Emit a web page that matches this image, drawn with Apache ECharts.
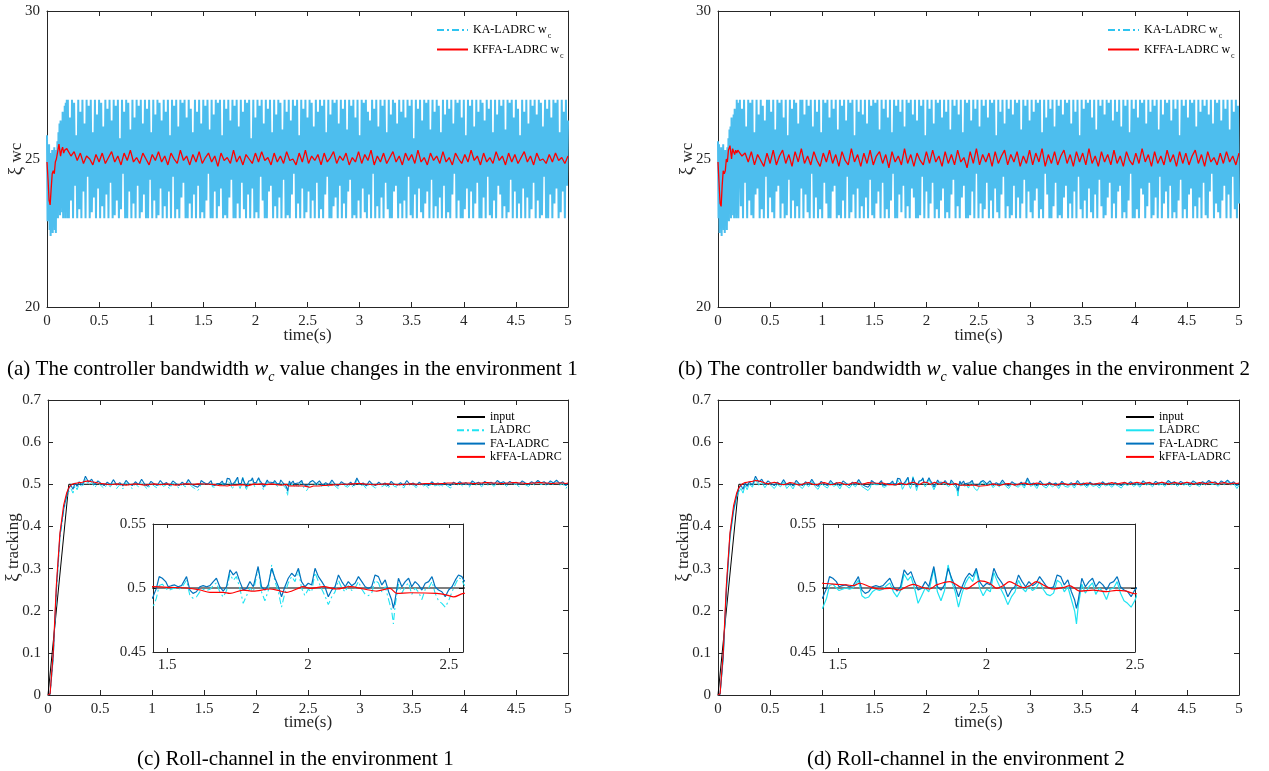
<!DOCTYPE html>
<html><head><meta charset="utf-8">
<script src="https://cdn.jsdelivr.net/npm/echarts@6/dist/echarts.min.js"></script>
<style>html,body{margin:0;padding:0;background:#fff}#c{width:1269px;height:771px}</style>
</head><body><div id="c"></div><script>
// ---------------- DATA ----------------
const timeTicks = [0,0.5,1,1.5,2,2.5,3,3.5,4,4.5,5];
const wcTicks = [20,25,30];
const insetXTicks = [1.5,2,2.5];
const insetYTicks = [0.45,0.5,0.55];

// (a) KA-LADRC wc : start transient [t, value]
const kaHeadA = [[0,25.8],[0.005,22.9],[0.01,25.4],[0.015,23.3],[0.02,25.5],[0.025,22.6],[0.03,25.2],[0.035,22.4],[0.04,25.0],[0.045,23.0],[0.05,25.3],[0.055,22.5],[0.06,25.1],[0.065,22.7],[0.07,25.4],[0.075,22.6],[0.08,24.9],[0.085,22.5],[0.09,25.3],[0.095,23.2],[0.10,25.6],[0.105,23.0],[0.11,25.9],[0.115,23.3],[0.12,26.2],[0.125,23.1],[0.13,26.3],[0.135,23.4],[0.14,26.0],[0.145,23.2],[0.15,26.6],[0.155,23.0],[0.16,26.5],[0.165,23.3],[0.17,26.8],[0.175,23.0],[0.18,26.9],[0.185,23.2],[0.19,27.0],[0.195,23.0]];
// (a) KA-LADRC wc from t=0.2, every 0.01 s
const kaBodyA = [27,23,26.4,23.6,27,23,26.9,24.1,25.8,23,27,23.3,26.6,23,27,23.9,26.2,23,27,24.4,
26.8,23,27,23.2,25.9,23.7,27,23,26.5,24.0,27,23,26.9,23.4,26.1,23,27,23.8,26.7,23,
27,24.2,26.3,23,27,23.1,26.8,23.6,27,23,25.7,23.3,27,24.5,26.6,23,27,23,26.9,23.9,
26.0,23,27,23.5,26.4,23,27,24.1,26.8,23,27,23.2,26.2,23.8,27,23,26.7,23,27,24.3,
25.9,23,27,23.6,26.5,23,27,23.1,26.9,24.0,26.3,23,27,23.4,26.6,23,27,23.9,25.8,23,
27,24.4,26.8,23,27,23.3,26.1,23,27,23.7,26.9,24.2,27,23,26.4,23,27,23.5,26.7,23,
25.9,23.8,27,23,26.6,24.1,27,23,26.2,23.2,27,23,26.8,23.6,27,24.5,26.0,23,27,23,
26.5,23.9,27,23,26.9,23.4,27,24.0,25.8,23,27,23.1,26.7,23,27,23.7,26.3,24.3,27,23,
26.8,23,27,23.5,26.1,23,27,24.2,26.6,23.3,27,23,26.9,23.8,27,23,25.7,24.0,27,23,
26.4,23.2,27,23,26.8,24.4,27,23.6,26.2,23,27,23,26.7,23.9,27,24.1,25.9,23,27,23.4,
26.5,23,27,23.7,26.9,23,26.0,24.3,27,23,26.6,23.1,27,23,26.3,23.8,27,24.5,26.8,23,
27,23.5,25.8,23,27,24.0,26.7,23,27,23.2,26.4,23.9,27,23,26.9,23.6,26.1,23,27,24.2,
26.6,23,27,23.3,26.8,23,27,23.8,25.9,24.4,27,23,26.5,23,27,23.4,26.9,23.7,27,23,
26.2,24.1,27,23,26.7,23.5,27,23,26.0,23.9,27,24.3,26.8,23,27,23.1,26.4,23,27,23.6,
25.8,23,27,24.0,26.9,23.2,27,23,26.6,23.8,26.3,23,27,24.5,26.7,23,27,23.4,26.1,23,
27,23.7,26.8,23,27,24.2,25.9,23.3,27,23,26.5,23,27,23.9,26.9,24.1,26.2,23,27,23.5,
26.6,23,27,23.6,26.4,23,27,24.4,26.8,23.1,27,23,25.7,23.8,27,23,26.7,24.0,27,23.2,
26.3,23,27,23.5,26.9,23.9,27,23,26.0,24.3,27,23,26.6,23.4,27,23,26.8,23.7,25.9,23,
27,24.1,26.5,23,27,23.2,26.7,23,27,23.8,26.2,24.5,27,23,26.9,23.6,27,23,26.4,23,
27,23.3,25.8,24.0,27,23,26.8,23.9,27,23,26.1,23.5,27,24.2,26.6,23,27,23,26.9,23.7,
26.3,23,27,24.4,26.7,23.1,27,23,25.9,23.6,27,23,26.5,24.1,27,23.8,26.8,23,27,23.4,
26.0,23,27,23.2,26.9,24.3,27,23,26.4,23.9,27,23,26.7,23.5,25.8,23,27,24.0,26.6,23,
27,23.7,26.2,23,27,23.3,26.8,24.2,27,23,26.5,23.6,27,23,26.9,23.1,26.1,24.4,27,23,
26.7,23,27,23.8,26.4,23,27,23.5,26.9,24.0,27,23,25.9,23.2,27,23.9,26.6,23,27,24.1,
26.3];
// (a) KFFA-LADRC wc
const kfHeadA = [[0,24.9],[0.01,24.3],[0.02,23.6],[0.03,23.45],[0.04,24.0],[0.05,24.5],[0.06,24.6],[0.07,24.5],[0.08,24.9],[0.09,25.0],[0.1,25.2],[0.115,25.5],[0.13,25.1],[0.14,25.3],[0.15,25.4],[0.16,25.2],[0.17,25.3],[0.18,25.25],[0.19,25.35]];
// from t=0.2, every 0.03 s
const kfBodyA = [25.3,25.1,25.25,24.95,25.2,24.85,25.1,25.0,24.8,25.15,24.9,25.2,24.85,25.05,25.25,24.9,25.1,24.8,25.2,24.95,
25.3,24.9,25.05,24.85,25.2,25.0,24.8,25.15,24.95,25.25,24.9,25.1,24.8,25.2,25.0,24.85,25.3,24.95,25.1,24.8,
25.15,24.9,25.25,24.85,25.05,25.2,24.9,25.1,24.75,25.2,24.95,25.05,24.85,25.3,24.9,25.1,24.8,25.15,25.0,24.85,
25.2,24.9,25.25,24.95,25.05,24.8,25.2,24.9,25.1,24.85,25.25,24.95,25.0,24.8,25.2,24.9,25.3,24.85,25.1,24.95,
25.15,24.8,25.2,24.9,25.05,25.25,24.85,25.1,24.95,25.2,24.8,25.05,24.9,25.25,24.85,25.15,24.95,25.3,24.8,25.1,
24.9,25.2,24.85,25.05,25.25,24.9,25.1,24.8,25.2,24.95,25.15,24.85,25.3,24.9,25.05,24.8,25.2,24.95,25.1,24.85,
25.25,24.9,25.05,24.8,25.2,25.0,24.85,25.15,24.9,25.3,24.95,25.1,24.8,25.2,24.9,25.05,24.85,25.25,24.95,25.1,
24.8,25.2,24.9,25.15,24.85,25.05,25.25,24.9,25.1,24.8,25.2,24.95,25.0,24.85,25.15,24.9,25.2,24.95,25.05,24.85,25.1];

// (b)
const kaHeadB = [[0,25.6],[0.005,23.0],[0.01,25.5],[0.015,22.5],[0.02,25.3],[0.025,22.8],[0.03,25.4],[0.035,22.4],[0.04,25.1],[0.045,22.9],[0.05,25.5],[0.055,22.6],[0.06,24.9],[0.065,22.5],[0.07,25.3],[0.075,22.8],[0.08,25.2],[0.085,22.6],[0.09,25.4],[0.095,23.1],[0.10,25.7],[0.105,22.9],[0.11,26.0],[0.115,23.2],[0.12,26.1],[0.125,23.0],[0.13,26.4],[0.135,23.3],[0.14,26.2],[0.145,23.1],[0.15,26.5],[0.155,23.0],[0.16,26.7],[0.165,23.2],[0.17,26.6],[0.175,23.0],[0.18,27.0],[0.185,23.1],[0.19,26.9],[0.195,23.0]];
const kaBodyB = [23,27,23.4,26.7,23,27,24.2,26.1,23,27,23.6,26.9,23.1,27,23,25.9,23.8,27,24.0,26.5,
23,27,23.3,26.8,23,26.3,24.4,27,23,27,23.7,26.6,23.2,27,23,26.0,23.9,27,24.1,26.9,
23,27,23.5,26.4,23,27,23.1,25.8,24.3,27,23,26.7,23.6,27,23,26.9,23.4,26.2,23,27,
24.0,27,23,26.5,23.8,27,23.2,26.8,23,27,24.5,26.1,23,27,23.7,26.6,23,27,23.3,25.9,
23,27,24.2,26.9,23.5,27,23,26.4,23,27,23.9,26.7,24.1,27,23,26.0,23.1,27,23,26.8,
23.6,27,23,26.3,24.4,27,23,26.9,23.2,27,23.8,25.8,23,27,24.0,26.6,23,27,23.4,26.5,
23,27,23.7,26.2,23,27,24.3,26.8,23.1,27,23,26.9,23.5,27,23.9,26.0,23,27,24.2,26.7,
23,27,23.3,26.4,23,27,23.6,25.9,24.5,27,23,26.8,23,27,23.8,26.6,23.2,27,24.1,26.1,
23,27,23.4,26.9,23,27,24.0,26.5,23.7,27,23,26.3,23,27,23.1,26.8,24.4,27,23,25.8,
23.9,27,23,26.7,23.5,27,24.2,26.2,23,27,23.3,26.9,23,27,23.6,26.4,24.0,27,23,26.6,
23.2,27,23,26.0,23.8,27,24.3,26.8,23,27,23.4,26.5,23,27,23.7,25.9,24.1,27,23,26.9,
23,27,23.1,26.3,23.9,27,23,26.7,24.5,27,23,26.1,23.5,27,23,26.8,23.3,27,24.2,26.4,
23,27,23.6,26.9,23,27,24.0,25.8,23.2,27,23,26.6,23.8,27,24.4,26.2,23,27,23.4,26.7,
23,27,23.1,26.5,24.1,27,23,26.9,23.7,27,23,26.0,23.5,27,24.3,26.8,23,27,23.9,26.3,
23.2,27,23,26.6,23.6,27,24.0,26.9,23,27,23.3,25.9,23,27,24.5,26.4,23.8,27,23,26.7,
23,27,23.4,26.1,24.2,27,23,26.8,23.1,27,23,26.5,23.7,27,24.1,26.9,23,27,23.5,26.2,
23,27,23.9,26.6,23,27,24.4,25.8,23.3,27,23,26.7,23.6,27,23,26.9,24.0,27,23.2,26.4,
23,27,23.8,26.0,23,27,24.3,26.8,23.4,27,23,26.5,23.1,27,23.7,26.9,24.2,27,23,26.3,
23.5,27,23,26.6,23.9,27,24.1,26.1,23,27,23.2,26.8,23,27,23.6,25.9,24.5,27,23,26.7,
23,27,23.3,26.4,23,27,24.0,26.9,23.8,27,23,26.2,23.4,27,24.2,26.6,23,27,23.1,26.8,
23.7,27,23,26.0,24.4,27,23,26.5,23.5,27,23.9,26.9,23,27,24.1,26.3,23,27,23.2,26.7,
23,27,23.6,25.8,24.3,27,23,26.8,23.3,27,23,26.4,23.8,27,24.0,26.9,23,27,23.4,26.1,
23,27,23.7,26.6,23,27,24.2,26.8,23.1,27,23,26.5,23.9,27,24.5,26.2,23,27,23.5,26.9,
23.2,27,23,26.3,23.6,27,24.1,26.7,23,27,23.8,26.0,23,27,24.4,26.6,23.3,27,23,26.8,
23.5];
const kfHeadB = [[0,24.9],[0.01,24.2],[0.02,23.5],[0.03,23.4],[0.04,24.1],[0.05,24.6],[0.06,24.5],[0.07,24.6],[0.08,25.0],[0.09,24.9],[0.1,25.3],[0.115,25.45],[0.13,25.0],[0.14,25.35],[0.15,25.4],[0.16,25.15],[0.17,25.3],[0.18,25.2],[0.19,25.3]];
const kfBodyB = [25.35,25.1,25.2,24.9,25.25,24.8,25.15,24.95,24.75,25.2,24.85,25.3,24.8,25.1,25.3,24.85,25.15,24.75,25.25,24.9,
25.35,24.85,25.1,24.8,25.25,24.95,24.75,25.2,24.9,25.3,24.85,25.15,24.75,25.25,24.95,24.8,25.35,24.9,25.15,24.75,
25.2,24.85,25.3,24.8,25.1,25.25,24.85,25.15,24.7,25.25,24.9,25.1,24.8,25.35,24.85,25.15,24.75,25.2,24.95,24.8,
25.25,24.85,25.3,24.9,25.1,24.75,25.25,24.85,25.15,24.8,25.3,24.9,25.05,24.7,25.25,24.85,25.35,24.8,25.15,24.9,
25.2,24.75,25.25,24.85,25.1,25.3,24.8,25.15,24.9,25.25,24.75,25.1,24.85,25.3,24.8,25.2,24.9,25.35,24.75,25.15,
24.85,25.25,24.8,25.1,25.3,24.85,25.15,24.75,25.25,24.9,25.2,24.8,25.35,24.85,25.1,24.75,25.25,24.9,25.15,24.8,
25.3,24.85,25.1,24.75,25.25,24.95,24.8,25.2,24.85,25.35,24.9,25.15,24.75,25.25,24.85,25.1,24.8,25.3,24.9,25.15,
24.75,25.25,24.85,25.2,24.8,25.1,25.3,24.85,25.15,24.75,25.25,24.9,25.05,24.8,25.2,24.85,25.25,24.9,25.1,24.8,25.2];

// (c)/(d) roll tracking
const inputTrack = [[0,0],[0.2,0.5],[5,0.5]];
const earlyT = [0,0.02,0.05,0.08,0.115,0.15,0.18,0.2,0.22,0.24,0.26,0.28,0.30,0.33,0.36,0.39,0.42,0.45,0.48,0.51,0.54,0.57,0.60,0.63,0.66,0.69,0.72,0.75,0.78,0.81,0.84,0.87,0.90,0.93,0.96,0.99,1.02,1.05,1.08,1.11,1.14,1.17,1.20,1.23,1.26,1.29,1.32,1.35,1.38,1.41,1.44];
const faEarly = [0,0.002,0.09,0.25,0.38,0.44,0.475,0.49,0.498,0.488,0.503,0.495,
0.506,0.498,0.519,0.505,0.512,0.499,0.508,0.502,0.497,0.505,0.499,0.511,0.498,0.504,0.496,0.509,0.501,0.497,0.506,0.499,0.512,0.500,0.495,0.507,0.501,0.497,0.509,0.500,0.504,0.496,0.508,0.502,0.497,0.505,0.499,0.511,0.500,0.496,0.493];
const ladEarly = [0,0.002,0.085,0.24,0.37,0.435,0.47,0.482,0.49,0.479,0.497,0.487,
0.501,0.493,0.512,0.498,0.505,0.492,0.503,0.497,0.490,0.500,0.494,0.506,0.490,0.499,0.489,0.504,0.496,0.490,0.501,0.494,0.507,0.495,0.488,0.502,0.496,0.491,0.504,0.495,0.499,0.489,0.503,0.497,0.491,0.500,0.494,0.506,0.495,0.490,0.485];
const kfEarlyC = [0,0.003,0.1,0.26,0.385,0.45,0.48,0.492,0.498,0.501,0.502,0.503,
0.504,0.505,0.507,0.508,0.506,0.505,0.503,0.502,0.501,0.500,0.499,0.500,0.501,0.500,0.499,0.498,0.499,0.500,0.501,0.500,0.499,0.498,0.499,0.500,0.501,0.500,0.499,0.500,0.501,0.500,0.499,0.498,0.499,0.500,0.501,0.501,0.500,0.500,0.501];
const kfEarlyD = [0,0.003,0.1,0.26,0.385,0.45,0.48,0.492,0.498,0.502,0.504,0.505,
0.506,0.507,0.509,0.508,0.506,0.503,0.501,0.503,0.505,0.503,0.500,0.499,0.501,0.504,0.503,0.500,0.498,0.500,0.503,0.504,0.501,0.499,0.500,0.503,0.504,0.502,0.499,0.500,0.503,0.504,0.501,0.499,0.500,0.503,0.504,0.502,0.500,0.502,0.504];

const insetT = [1.448,1.462,1.472,1.483,1.495,1.504,1.515,1.527,1.539,1.551,1.569,1.581,1.592,1.604,1.616,1.628,1.640,1.652,1.664,1.675,1.687,1.699,1.711,1.723,1.735,1.746,1.758,1.770,1.782,1.794,1.806,1.823,1.835,1.847,1.859,1.871,1.883,1.895,1.906,1.918,1.930,1.942,1.954,1.966,1.977,1.989,2.001,2.013,2.025,2.037,2.049,2.060,2.072,2.084,2.096,2.108,2.120,2.132,2.143,2.155,2.167,2.179,2.191,2.203,2.214,2.226,2.238,2.250,2.262,2.274,2.286,2.297,2.303,2.309,2.321,2.333,2.345,2.357,2.368,2.380,2.392,2.404,2.416,2.428,2.440,2.451,2.463,2.475,2.487,2.499,2.511,2.523,2.534,2.546,2.552];
const faInset = [0.4919,0.4997,0.5089,0.5076,0.5050,0.5010,0.5018,0.5024,0.5010,0.5018,
0.5089,0.4984,0.4958,0.4971,0.5010,0.5018,0.5010,0.5018,0.5050,0.5076,
0.5010,0.4976,0.5010,0.5141,0.5102,0.5128,0.5050,0.4984,0.4997,0.5050,
0.5010,0.5168,0.5010,0.4984,0.5024,0.5154,0.5076,0.5010,0.4932,0.5010,
0.5076,0.5115,0.5089,0.5154,0.5050,0.5010,0.5037,0.5024,0.5154,0.5089,
0.5050,0.5010,0.4932,0.4984,0.5010,0.5102,0.5050,0.5010,0.5050,0.5018,
0.5037,0.5089,0.5050,0.5010,0.4997,0.5010,0.5102,0.5089,0.5024,0.5063,
0.4971,0.4906,0.4840,0.4906,0.5076,0.5010,0.5050,0.5076,0.5010,0.5050,
0.5024,0.4984,0.5037,0.5050,0.5089,0.5010,0.4984,0.4971,0.4932,0.4984,
0.5010,0.5063,0.5102,0.5089,0.5063];
const ladInset = [0.484,0.492,0.502,0.503,0.500,0.498,0.499,0.500,0.499,0.500,
0.506,0.494,0.492,0.493,0.497,0.499,0.498,0.499,0.502,0.504,
0.497,0.493,0.498,0.511,0.506,0.509,0.500,0.488,0.494,0.500,
0.497,0.515,0.497,0.490,0.498,0.518,0.505,0.497,0.485,0.496,
0.504,0.509,0.505,0.514,0.500,0.494,0.499,0.497,0.512,0.505,
0.499,0.494,0.487,0.493,0.497,0.506,0.500,0.497,0.502,0.498,
0.500,0.505,0.499,0.495,0.494,0.496,0.506,0.504,0.497,0.501,
0.491,0.482,0.472,0.486,0.503,0.496,0.501,0.504,0.495,0.500,
0.497,0.491,0.499,0.500,0.505,0.496,0.490,0.488,0.485,0.490,
0.497,0.503,0.508,0.507,0.503];
const kfInsetC = [[1.448,0.501],[1.509,0.5005],[1.569,0.500],[1.616,0.4985],[1.652,0.4966],[1.699,0.4966],[1.723,0.4958],[1.770,0.4984],[1.806,0.4976],[1.865,0.4992],[1.889,0.4984],[1.924,0.4966],[1.960,0.4992],[1.983,0.501],[2.007,0.4997],[2.055,0.501],[2.102,0.4992],[2.149,0.501],[2.197,0.4992],[2.244,0.4976],[2.291,0.4997],[2.315,0.4958],[2.363,0.4963],[2.457,0.4958],[2.493,0.4945],[2.517,0.493],[2.552,0.4958]];
const kfInsetD = [[1.448,0.5037],[1.496,0.5029],[1.529,0.5024],[1.552,0.5018],[1.574,0.5037],[1.608,0.501],[1.641,0.4992],[1.675,0.4997],[1.709,0.4984],[1.731,0.501],[1.753,0.5029],[1.787,0.5003],[1.809,0.4992],[1.832,0.5024],[1.877,0.505],[1.910,0.501],[1.933,0.4992],[1.955,0.5024],[1.978,0.5055],[2.011,0.5037],[2.034,0.4997],[2.056,0.5018],[2.078,0.505],[2.101,0.5024],[2.123,0.5003],[2.146,0.5018],[2.168,0.505],[2.191,0.5024],[2.224,0.4992],[2.258,0.5003],[2.280,0.5018],[2.314,0.4976],[2.359,0.4984],[2.404,0.4971],[2.437,0.4982],[2.471,0.4976],[2.499,0.4955]];

// from t=2.58, every 0.03 s
const faLate = [0.501,0.508,0.497,0.504,0.499,0.510,0.500,0.496,0.506,0.501,
0.498,0.505,0.497,0.515,0.500,0.503,0.496,0.508,0.500,0.497,
0.505,0.499,0.503,0.496,0.507,0.500,0.498,0.504,0.497,0.509,
0.500,0.503,0.497,0.505,0.499,0.502,0.497,0.506,0.500,0.503,
0.498,0.504,0.500,0.497,0.505,0.501,0.506,0.500,0.504,0.498,
0.508,0.502,0.505,0.499,0.507,0.502,0.505,0.500,0.509,0.503,
0.506,0.500,0.507,0.502,0.505,0.500,0.508,0.503,0.500,0.506,
0.502,0.509,0.503,0.506,0.500,0.508,0.503,0.510,0.502,0.506,0.497,0.503];
const ladLate = [0.497,0.503,0.492,0.500,0.494,0.505,0.496,0.490,0.501,0.497,
0.493,0.500,0.491,0.510,0.495,0.499,0.490,0.503,0.496,0.491,
0.500,0.494,0.499,0.490,0.502,0.495,0.493,0.500,0.491,0.504,
0.496,0.499,0.492,0.501,0.495,0.498,0.491,0.502,0.496,0.499,
0.493,0.500,0.496,0.491,0.501,0.497,0.502,0.495,0.500,0.493,
0.504,0.498,0.501,0.494,0.503,0.498,0.501,0.495,0.505,0.499,
0.502,0.495,0.503,0.498,0.501,0.494,0.504,0.499,0.495,0.502,
0.498,0.505,0.499,0.502,0.495,0.504,0.499,0.506,0.498,0.502,0.490,0.498];
const kfLateC = [0.496,0.496,0.497,0.497,0.498,0.498,0.499,0.499,0.500,0.500,
0.500,0.501,0.501,0.502,0.502,0.501,0.500,0.500,0.499,0.499,
0.500,0.500,0.501,0.501,0.500,0.500,0.499,0.499,0.500,0.500,
0.501,0.501,0.500,0.500,0.501,0.502,0.502,0.502,0.501,0.501,
0.502,0.502,0.503,0.503,0.503,0.502,0.502,0.503,0.503,0.503,
0.502,0.502,0.503,0.503,0.504,0.504,0.503,0.503,0.503,0.502,
0.502,0.503,0.503,0.504,0.504,0.503,0.503,0.502,0.502,0.503,
0.503,0.504,0.504,0.503,0.503,0.502,0.502,0.503,0.503,0.503,0.502,0.503];
const kfLateD = [0.497,0.499,0.501,0.499,0.497,0.499,0.501,0.502,0.500,0.498,
0.500,0.502,0.503,0.501,0.499,0.501,0.503,0.501,0.499,0.500,
0.502,0.500,0.498,0.500,0.502,0.501,0.499,0.500,0.502,0.501,
0.499,0.501,0.503,0.502,0.500,0.501,0.503,0.502,0.500,0.502,
0.504,0.502,0.501,0.503,0.504,0.502,0.501,0.503,0.505,0.503,
0.501,0.503,0.504,0.502,0.501,0.503,0.505,0.503,0.501,0.502,
0.504,0.503,0.501,0.503,0.505,0.503,0.501,0.502,0.504,0.503,
0.501,0.503,0.505,0.503,0.501,0.503,0.504,0.502,0.501,0.503,0.502,0.503];

// ---------------- BUILD ----------------
const FONT = '"Liberation Serif","Times New Roman",serif';
const AX = '#262626';
function uniform(t0, dt, vals){ return vals.map((v,i)=>[Math.min(5, +(t0+dt*i).toFixed(4)), v]); }
function onGrid(ts, vals){ return ts.map((t,i)=>[t, vals[i]]); }

const kaA = kaHeadA.concat(uniform(0.2,0.01,kaBodyA));
const kfA = kfHeadA.concat(uniform(0.2,0.03,kfBodyA));
const kaB = kaHeadB.concat(uniform(0.2,0.01,kaBodyB));
const kfB = kfHeadB.concat(uniform(0.2,0.03,kfBodyB));
const faT = onGrid(earlyT,faEarly).concat(onGrid(insetT,faInset), uniform(2.58,0.03,faLate));
const ladT = onGrid(earlyT,ladEarly).concat(onGrid(insetT,ladInset), uniform(2.58,0.03,ladLate));
const kfC = onGrid(earlyT,kfEarlyC).concat(kfInsetC, uniform(2.58,0.03,kfLateC));
const kfD = onGrid(earlyT,kfEarlyD).concat(kfInsetD, uniform(2.58,0.03,kfLateD));

const grids=[], xAxes=[], yAxes=[];
function addPanel(o){
  const g = grids.length;
  grids.push({left:o.l, top:o.t, width:o.w, height:o.h, containLabel:false});
  const tick = (cv)=>Object.assign({inside:true, length:o.tl, lineStyle:{color:AX,width:1}}, cv?{customValues:cv}:{});
  const line = {show:true, onZero:false, lineStyle:{color:AX,width:1}};
  const lab = (cv,m)=>Object.assign({color:AX, fontFamily:FONT, fontSize:o.fs, margin:m}, cv?{customValues:cv}:{});
  const nts = {color:AX, fontFamily:FONT, fontSize:17, rich:{x:{fontFamily:FONT,fontSize:19,color:AX}, n:{fontFamily:FONT,fontSize:17,color:AX}}};
  const bx = {type:'value', gridIndex:g, min:o.x[0], max:o.x[1], splitLine:{show:false}, axisLine:line, nameMoveOverlap:false};
  if(o.xi) bx.interval=o.xi;
  xAxes.push(Object.assign({}, bx, {position:'bottom', axisTick:tick(o.xc), axisLabel:lab(o.xc,o.xm||7), name:o.xn||'', nameLocation:'middle', nameGap:o.xng||26, nameTextStyle:nts}));
  xAxes.push(Object.assign({}, bx, {position:'top', axisTick:tick(o.xc), axisLabel:{show:false}}));
  const by = {type:'value', gridIndex:g, min:o.y[0], max:o.y[1], splitLine:{show:false}, axisLine:line, nameMoveOverlap:false};
  if(o.yi) by.interval=o.yi;
  yAxes.push(Object.assign({}, by, {position:'left', axisTick:tick(o.yc), axisLabel:lab(o.yc,o.ym||7), name:o.yn||'', nameLocation:'middle', nameGap:o.yng||26, nameTextStyle:nts}));
  yAxes.push(Object.assign({}, by, {position:'right', axisTick:tick(o.yc), axisLabel:{show:false}}));
  return g;
}
const gA = addPanel({l:47,t:11,w:521,h:296,x:[0,5],xi:0.5,y:[20,30],yi:5,tl:5,fs:15,xn:'time(s)',xng:20,yn:'{x|ξ} {n|wc}',yng:21});
const gB = addPanel({l:718,t:11,w:521,h:296,x:[0,5],xi:0.5,y:[20,30],yi:5,tl:5,fs:15,xn:'time(s)',xng:20,yn:'{x|ξ} {n|wc}',yng:21});
const gC = addPanel({l:48,t:400,w:520,h:295,x:[0,5],xi:0.5,y:[0,0.7],yi:0.1,tl:5,fs:15,xn:'time(s)',xng:19,yn:'{x|ξ} {n|tracking}',yng:25});
const gD = addPanel({l:718,t:400,w:521,h:295,x:[0,5],xi:0.5,y:[0,0.7],yi:0.1,tl:5,fs:15,xn:'time(s)',xng:19,yn:'{x|ξ} {n|tracking}',yng:25});
const gCi = addPanel({l:153,t:524,w:310,h:128,x:[1.45,2.55],xc:insetXTicks,y:[0.45,0.55],yc:insetYTicks,tl:4,fs:15,xm:6});
const gDi = addPanel({l:823,t:524,w:312,h:128,x:[1.45,2.5],xc:insetXTicks,y:[0.45,0.55],yc:insetYTicks,tl:4,fs:15,xm:6});

const COL = {ka:'#4DBEEE', kaLeg:'#2EC4F0', kf:'#FF0000', inp:'#000000', lad:'#1FE3F2', fa:'#0072BD', kff:'#FF0000'};
function ser(name,g,data,color,w,type,extra){
  return Object.assign({name, type:'line', xAxisIndex:2*g, yAxisIndex:2*g, data, showSymbol:false, symbol:'none',
    lineStyle:{color, width:w, type:type||'solid'}, itemStyle:{color}, animation:false, silent:true, z:2}, extra||{});
}
const DASHDOT = [7,3,2,3];
const series = [
  ser('a_ka_data',gA,kaA,COL.ka,2), ser('a_ka',gA,[],COL.kaLeg,1.2,DASHDOT), ser('a_kf',gA,kfA,COL.kf,1.3),
  ser('b_ka_data',gB,kaB,COL.ka,2), ser('b_ka',gB,[],COL.kaLeg,1.2,DASHDOT), ser('b_kf',gB,kfB,COL.kf,1.3),
  ser('c_in',gC,inputTrack,COL.inp,1), ser('c_lad',gC,ladT,COL.lad,1,DASHDOT), ser('c_fa',gC,faT,COL.fa,1.1), ser('c_kf',gC,kfC,COL.kff,1.1),
  ser('d_in',gD,inputTrack,COL.inp,1), ser('d_lad',gD,ladT,COL.lad,1), ser('d_fa',gD,faT,COL.fa,1.1), ser('d_kf',gD,kfD,COL.kff,1.1),
  ser('ci_in',gCi,inputTrack,COL.inp,1.2), ser('ci_lad',gCi,ladT,COL.lad,1.1,DASHDOT), ser('ci_fa',gCi,faT,COL.fa,1.2), ser('ci_kf',gCi,kfC,COL.kff,1.2,null,{smooth:0.3}),
  ser('di_in',gDi,inputTrack,COL.inp,1.2), ser('di_lad',gDi,ladT,COL.lad,1.2), ser('di_fa',gDi,faT,COL.fa,1.2), ser('di_kf',gDi,kfD,COL.kff,1.2,null,{smooth:0.3})
];

const legendNames = {a_ka:['KA-LADRC w','c'], a_kf:['KFFA-LADRC w','c'], b_ka:['KA-LADRC w','c'], b_kf:['KFFA-LADRC w','c'],
  c_in:['input'], c_lad:['LADRC'], c_fa:['FA-LADRC'], c_kf:['kFFA-LADRC'],
  d_in:['input'], d_lad:['LADRC'], d_fa:['FA-LADRC'], d_kf:['kFFA-LADRC']};
const legRich = {t:{fontFamily:FONT,fontSize:12,color:'#000',lineHeight:14}, s:{fontFamily:FONT,fontSize:8,color:'#000',verticalAlign:'bottom',lineHeight:14,padding:[0,0,-3,1]}};
function legFmt(n){ const p=legendNames[n]; return p.length>1 ? '{t|'+p[0]+'}{s|'+p[1]+'}' : '{t|'+p[0]+'}'; }
function mkLegend(left,top,data,iw,gap){
  return {left,top,orient:'vertical',data,itemWidth:iw,itemHeight:10,itemGap:gap,selectedMode:false,padding:0,
    itemStyle:{opacity:0, borderWidth:0},
    formatter:legFmt, textStyle:{fontFamily:FONT,fontSize:12,color:'#000',rich:legRich}};
}
const legends = [
  mkLegend(436,24,['a_ka','a_kf'],31,3.5),
  mkLegend(1107,24,['b_ka','b_kf'],31,3.5),
  mkLegend(456,411,['c_in','c_lad','c_fa','c_kf'],28,1.3),
  mkLegend(1125,411,['d_in','d_lad','d_fa','d_kf'],28,1.3)
];

const capRich = {n:{fontFamily:FONT,fontSize:21,color:'#000'}, i:{fontFamily:FONT,fontSize:21,fontStyle:'italic',color:'#000'}, s:{fontFamily:FONT,fontSize:14,fontStyle:'italic',color:'#000',verticalAlign:'bottom',padding:[0,0,-4,0]}};
function cap(x,y,text){ return {type:'text', left:x, top:y, style:{text, rich:capRich, font:'21px '+FONT, fill:'#000'}}; }
const graphic = [
  cap(7,359,'{n|(a) The controller bandwidth }{i|w}{s|c}{n| value changes in the environment 1}'),
  cap(678,359,'{n|(b) The controller bandwidth }{i|w}{s|c}{n| value changes in the environment 2}'),
  cap(137,749,'{n|(c) Roll-channel in the environment 1}'),
  cap(807,749,'{n|(d) Roll-channel in the environment 2}')
];

const chart = echarts.init(document.getElementById('c'), null, {renderer:'canvas'});
chart.setOption({backgroundColor:'#fff', animation:false, grid:grids, xAxis:xAxes, yAxis:yAxes, series, legend:legends, graphic});
</script></body></html>
